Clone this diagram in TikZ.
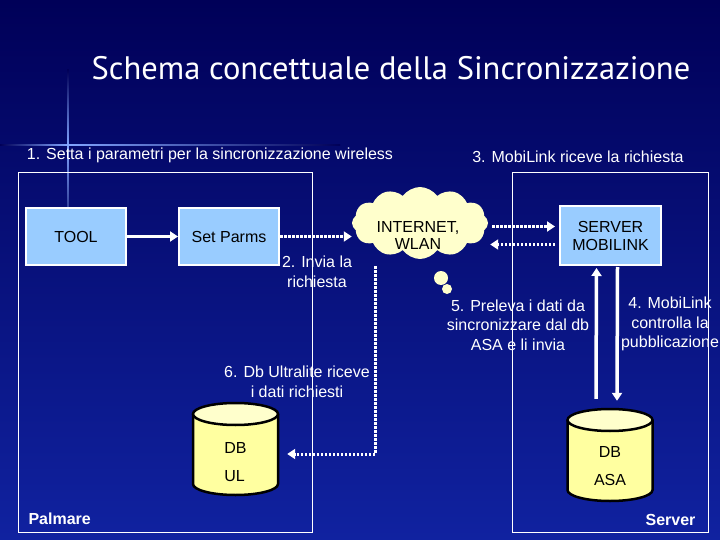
\documentclass[tikz,border=0pt]{standalone}
\usepackage{fontspec}
\setmainfont{Liberation Sans}
\newfontfamily\titlefont{PT Sans}
\usepackage{tikz}
\usetikzlibrary{calc,arrows.meta,positioning,shapes.geometric,shapes.symbols}
\usepackage{xcolor}
\definecolor{slidetop}{RGB}{0,0,88}
\definecolor{slidebottom}{RGB}{16,34,160}
\definecolor{flare}{RGB}{130,165,255}
\definecolor{boxblue}{RGB}{153,204,255}
\definecolor{cloudyellow}{RGB}{255,255,204}
\definecolor{dbyellow}{RGB}{255,255,160}

\tikzset{
  dbcan/.pic={
    \fill[dbyellow] (-42.5,-35) -- (-42.5,35) arc(180:0:42.5 and 11) -- (42.5,-35) -- cycle;
    \draw[black, line width=2.5pt] (-42.5,-35) -- (-42.5,35) arc(180:0:42.5 and 11) -- (42.5,-35);
    \filldraw[fill=cloudyellow, draw=black, line width=2.5pt] (0,-35) ellipse (42.5 and 11);
  }
}

\begin{document}
\begin{tikzpicture}[x=1pt, y=-1pt,
    every node/.style={font=\fontsize{16}{18}\selectfont, text=white},
    procbox/.style={draw=white, line width=2pt, fill=boxblue, text=black,
      minimum width=100pt, minimum height=57pt, align=center},
    dbspot/.style={minimum width=85pt, minimum height=92pt, inner sep=0pt},
    dbtext/.style={text=black, font=\fontsize{16}{28}\selectfont},
    area/.style={draw=white, line width=0.8pt},
    solidarrow/.style={white, line width=3.5pt, -{Triangle[length=8pt,width=10pt]}},
    dotarrow/.style={white, line width=3pt, dash pattern=on 2.5pt off 1.5pt,
      -{Triangle[length=8pt,width=10pt]}},
    note/.style={align=center, font=\fontsize{16}{19.5}\selectfont}]
  % slide background
  \useasboundingbox (0,0) rectangle (720,540);
  \fill[top color=slidetop, bottom color=slidebottom] (0,0) rectangle (720,540);
  \shade[left color=slidetop, right color=flare] (0,144.2) rectangle (68,145.8);
  \shade[left color=flare, right color=slidetop] (68,144.2) rectangle (340,145.8);
  \shade[top color=slidetop, bottom color=flare] (67.2,70) rectangle (68.8,145);
  \shade[top color=flare, bottom color=slidetop] (67.2,145) rectangle (68.8,250);

  \node[font=\titlefont\fontsize{32.5}{34}\selectfont] (title) at (391,68)
    {Schema concettuale della Sincronizzazione};
  \node (step1) at (210,155) {1. Setta i parametri per la sincronizzazione wireless};
  \node (step3) at (578,157) {3. MobiLink riceve la richiesta};

  % palmare / server areas
  \draw[area] (18,172) rectangle (312,532);
  \draw[area] (512,172) rectangle (708,532);
  \node[font=\bfseries\fontsize{16}{18}\selectfont, anchor=west] (palmare) at (25,519) {Palmare};
  \node[font=\bfseries\fontsize{16}{18}\selectfont, anchor=east] (server) at (699,520) {Server};

  \node[procbox] (tool) at (76,236.5) {TOOL};
  \node[procbox, right=51pt of tool] (parms) {Set Parms};
  \node[procbox, minimum width=101pt, minimum height=59pt] (mlink) at (610.5,235.5) {SERVER\\MOBILINK};

  % cloud
  \node[cloud, cloud puffs=12, cloud puff arc=110, aspect=1.9, fill=cloudyellow,
    minimum width=136pt, minimum height=72pt, inner sep=0pt] (net) at (420,223) {};
  \node[text=black, align=center, font=\fontsize{16}{17}\selectfont] (nettext) at (418,235) {INTERNET,\\WLAN};
  \fill[cloudyellow] (441,278) circle (7pt);
  \fill[cloudyellow] (447,289) circle (5pt);

  % databases
  \node[dbspot] (dbul) at (235.5,449) {};
  \pic at (dbul.center) {dbcan};
  \node[dbtext, align=left] (ultext) at ([yshift=-13pt]dbul.center) {DB\\UL};
  \node[dbspot] (dbasa) at (610,455) {};
  \pic at (dbasa.center) {dbcan};
  \node[dbtext, align=center] (asatext) at ([yshift=-11pt]dbasa.center) {DB\\ASA};

  % connectors
  \draw[solidarrow] (tool) -- (parms);
  \draw[dotarrow] (parms.east) -- (parms.east -| net.west);
  \coordinate (mlup) at ([yshift=9pt]mlink.west);
  \coordinate (mldn) at ([yshift=-9pt]mlink.west);
  \draw[dotarrow, shorten <=4pt, shorten >=4pt] (net.east |- mlup) -- (mlup);
  \draw[dotarrow, shorten <=4pt, shorten >=2pt] (mldn) -- (net.east |- mldn);
  \coordinate (netdrop) at (375,266);
  \draw[dotarrow] (netdrop) |- ([xshift=9pt,yshift=-5pt]dbul.east);
  \draw[solidarrow] ([xshift=-14pt,yshift=10pt]dbasa.north) -- ([xshift=-14pt,yshift=-2pt]mlink.south);
  \draw[solidarrow] ([xshift=7pt,yshift=-1pt]mlink.south) -- ([xshift=7pt,yshift=8pt]dbasa.north);

  \node[note] (step2) at (317,272) {2. Invia la\\richiesta};
  \node[note] (step5) at (518,325) {5. Preleva i dati da\\sincronizzare dal db\\ASA e li invia};
  \node[note] (step4) at (670,324) {4. MobiLink\\controlla la\\pubblicazione};
  \node[note] (step6) at (297,382) {6. Db Ultralite riceve\\i dati richiesti};
\end{tikzpicture}
\end{document}
